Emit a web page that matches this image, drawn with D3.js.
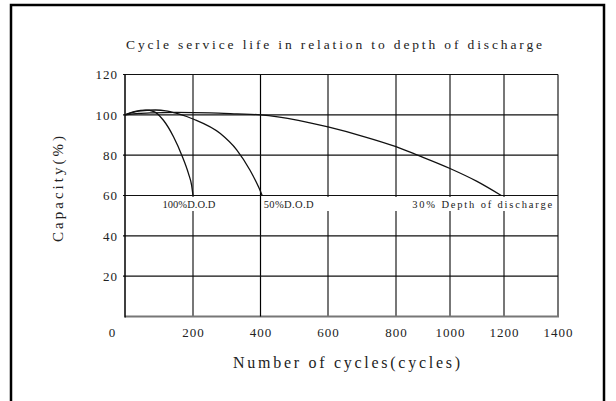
<!DOCTYPE html>
<html>
<head>
<meta charset="utf-8">
<script src="https://cdn.jsdelivr.net/npm/d3@7"></script>
<style>
  body { margin: 0; background: #fff; }
  text { font-family: "Liberation Serif", "DejaVu Serif", serif; fill: #222; }
</style>
</head>
<body>
<script>
// data
var xTicks = [200, 400, 600, 800, 1000, 1200, 1400];
var yTicks = [20, 40, 60, 80, 100, 120];
var seriesNames = ["100%D.O.D", "50%D.O.D", "30% Depth of discharge"];

var dod100 = [[0, 100], [30, 101.7], [60, 102.3], [85, 101.6], [113, 97.3], [143, 89],
    [167, 80], [187, 70.7], [196, 65], [200, 60]];
var dod50 = [[0, 100], [40, 101.8], [90, 102.4], [120, 102], [150, 100.8], [202, 97.8],
    [281, 90.7], [330, 82.5], [369, 72.5], [394, 64.3], [405, 60]];
var dod30 = [[0, 100], [40, 100.7], [80, 101], [150, 101.2], [250, 101], [330, 100.5],
    [400, 100], [512, 97.3], [600, 94], [700, 89.5], [800, 84.2], [880, 80], [1000, 73.4],
    [1100, 67], [1190, 60]];
var series = [dod100, dod50, dod30];

//Define SVG
var W = 616, H = 401;
var svg = d3.select("body").append("svg")
    .attr("width", W)
    .attr("height", H);

// outer frame (bottom edge is cut off in the original)
svg.append("path")
    .attr("d", "M11,405 V5 H604 V405")
    .attr("fill", "none")
    .attr("stroke", "#000")
    .attr("stroke-width", 2.5);

// x axis is not evenly spaced in the original
var x = d3.scaleLinear()
    .domain([0, 200, 400, 600, 800, 1000, 1200, 1400])
    .range([125, 193, 260.5, 328, 396, 450, 504, 558]);

var y = d3.scaleLinear()
    .domain([0, 120])
    .range([316.5, 74.5]);

var plot = svg.append("g");

// vertical grid (grey)
plot.selectAll(".vgrid")
    .data(xTicks.filter(function (d) { return d != 400; }))
    .enter().append("line")
    .attr("class", "vgrid")
    .attr("x1", function (d) { return x(d); })
    .attr("x2", function (d) { return x(d); })
    .attr("y1", y(120))
    .attr("y2", y(0))
    .attr("stroke", "#777")
    .attr("stroke-width", 2);

// bottom edge grey
plot.append("line")
    .attr("x1", x(0)).attr("x2", x(1400) + 1)
    .attr("y1", y(0)).attr("y2", y(0))
    .attr("stroke", "#777")
    .attr("stroke-width", 2);

// white band where the curve labels sit
plot.append("rect")
    .attr("x", x(0) + 1)
    .attr("width", x(1400) - x(0) - 3)
    .attr("y", y(60) + 1.5)
    .attr("height", 14)
    .attr("fill", "#fff");

// 400 line is black and thin
plot.append("line")
    .attr("x1", x(400)).attr("x2", x(400))
    .attr("y1", y(120)).attr("y2", y(0))
    .attr("stroke", "#000")
    .attr("stroke-width", 1.2);

// horizontal grid (black)
plot.selectAll(".hgrid")
    .data(yTicks)
    .enter().append("line")
    .attr("class", "hgrid")
    .attr("x1", x(0) - 2)
    .attr("x2", x(1400))
    .attr("y1", function (d) { return y(d); })
    .attr("y2", function (d) { return y(d); })
    .attr("stroke", "#111")
    .attr("stroke-width", 1.2);

// left edge
plot.append("line")
    .attr("x1", x(0)).attr("x2", x(0))
    .attr("y1", y(120)).attr("y2", y(0) + 1)
    .attr("stroke", "#000")
    .attr("stroke-width", 1.5);

// curves
var line = d3.line()
    .x(function (d) { return x(d[0]); })
    .y(function (d) { return y(d[1]); })
    .curve(d3.curveMonotoneX);

plot.selectAll(".curve")
    .data(series)
    .enter().append("path")
    .attr("class", "curve")
    .attr("d", line)
    .attr("fill", "none")
    .attr("stroke", "#111")
    .attr("stroke-width", 1.3);

// curve labels
var labelAt = [110, 405, 860];
var labelLen = [53, 50, 140];
plot.selectAll(".clabel")
    .data(seriesNames)
    .enter().append("text")
    .attr("class", "clabel")
    .attr("x", function (d, i) { return x(labelAt[i]) + (i == 1 ? 1.5 : 0); })
    .attr("y", y(60) + 12.5)
    .attr("font-size", "10.5px")
    .attr("textLength", function (d, i) { return labelLen[i]; })
    .attr("lengthAdjust", "spacing")
    .text(function (d) { return d; });

// y axis labels
var yAxis = svg.append("g")
    .attr("transform", "translate(" + x(0) + ",0)")
    .call(d3.axisLeft(y).tickValues(yTicks).tickSize(0).tickPadding(7));
yAxis.select(".domain").remove();
yAxis.selectAll("text")
    .attr("font-size", "13px")
    .attr("letter-spacing", "1px")
    .attr("font-family", null)
    .attr("fill", "#222");

// x axis labels
var xAxis = svg.append("g")
    .attr("transform", "translate(0," + y(0) + ")")
    .call(d3.axisBottom(x).tickValues(xTicks).tickFormat(d3.format("d")).tickSize(0).tickPadding(11));
xAxis.select(".domain").remove();
xAxis.selectAll("text")
    .attr("font-size", "13px")
    .attr("letter-spacing", "1px")
    .attr("font-family", null)
    .attr("fill", "#222");

// origin "0"
svg.append("text")
    .attr("x", x(0) - 13)
    .attr("y", y(0) + 20)
    .attr("text-anchor", "middle")
    .attr("font-size", "13px")
    .text("0");

// titles
svg.append("text")
    .attr("x", 126)
    .attr("y", 49)
    .attr("font-size", "13.5px")
    .attr("textLength", 416)
    .attr("lengthAdjust", "spacing")
    .text("Cycle service life in relation to depth of discharge");

svg.append("text")
    .attr("x", 233)
    .attr("y", 368)
    .attr("font-size", "16px")
    .attr("textLength", 227)
    .attr("lengthAdjust", "spacing")
    .text("Number of cycles(cycles)");

svg.append("text")
    .attr("transform", "translate(63,242) rotate(-90)")
    .attr("font-size", "15px")
    .attr("textLength", 106)
    .attr("lengthAdjust", "spacing")
    .text("Capacity(%)");
</script>
</body>
</html>
